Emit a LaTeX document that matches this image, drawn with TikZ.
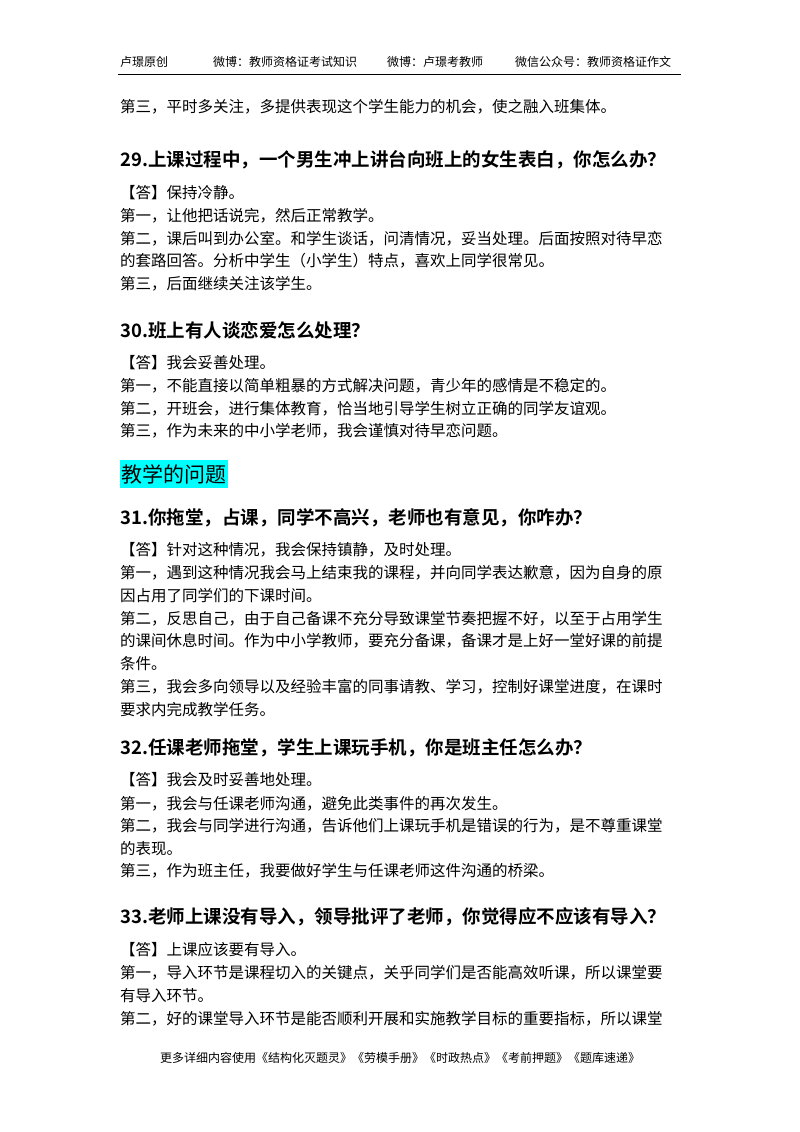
\documentclass[tikz,border=0pt]{standalone}
\usepackage{fontspec}
\setmainfont{Noto Sans CJK SC}
\newfontfamily\cjk{Noto Sans CJK SC}
\newfontfamily\cjkb{Noto Sans CJK SC Bold}
\definecolor{hl}{RGB}{0,255,255}
\begin{document}
\begin{tikzpicture}[x=1pt,y=-1pt,
 body/.style={anchor=west,inner sep=0,font=\cjk\fontsize{15.5}{18}\selectfont},
 head/.style={anchor=west,inner sep=0,font=\cjkb\fontsize{18.5}{22}\selectfont},
 small/.style={anchor=west,inner sep=0,font=\cjk\fontsize{12}{14}\selectfont}]
\useasboundingbox (0,0) rectangle (800,1132);
\fill[white] (0,0) rectangle (800,1132);
\node[small] (h1) at (120,62) {卢璟原创};
\node[small] (h2) at (213,62) {微博：教师资格证考试知识};
\node[small] (h3) at (387,62) {微博：卢璟考教师};
\node[small] (h4) at (515,62) {微信公众号：教师资格证作文};
\coordinate (la) at (118,74); \coordinate (lb) at (681,74);
\draw[line width=0.8] (la) -- (lb);
\node[body] (t0) at (120,107) {第三，平时多关注，多提供表现这个学生能力的机会，使之融入班集体。};
\node[head] (q29) at (120,160) {29.上课过程中，一个男生冲上讲台向班上的女生表白，你怎么办？};
\node[body] (a1) at (120,193) {【答】保持冷静。};
\node[body] (a2) at (120,216) {第一，让他把话说完，然后正常教学。};
\node[body] (a3) at (120,239) {第二，课后叫到办公室。和学生谈话，问清情况，妥当处理。后面按照对待早恋};
\node[body] (a4) at (120,261) {的套路回答。分析中学生（小学生）特点，喜欢上同学很常见。};
\node[body] (a5) at (120,284) {第三，后面继续关注该学生。};
\node[head] (q30) at (120,330) {30.班上有人谈恋爱怎么处理？};
\node[body] (b1) at (120,363) {【答】我会妥善处理。};
\node[body] (b2) at (120,386) {第一，不能直接以简单粗暴的方式解决问题，青少年的感情是不稳定的。};
\node[body] (b3) at (120,409) {第二，开班会，进行集体教育，恰当地引导学生树立正确的同学友谊观。};
\node[body] (b4) at (120,431) {第三，作为未来的中小学老师，我会谨慎对待早恋问题。};
\fill[hl] (120,460) rectangle (228,488);
\node[anchor=west,inner sep=0,font=\cjk\fontsize{21}{24}\selectfont] (sec) at (121,474) {教学的问题};
\node[head] (q31) at (120,518) {31.你拖堂，占课，同学不高兴，老师也有意见，你咋办？};
\node[body] (c1) at (120,550) {【答】针对这种情况，我会保持镇静，及时处理。};
\node[body] (c2) at (120,573) {第一，遇到这种情况我会马上结束我的课程，并向同学表达歉意，因为自身的原};
\node[body] (c3) at (120,596) {因占用了同学们的下课时间。};
\node[body] (c4) at (120,619) {第二，反思自己，由于自己备课不充分导致课堂节奏把握不好，以至于占用学生};
\node[body] (c5) at (120,641) {的课间休息时间。作为中小学教师，要充分备课，备课才是上好一堂好课的前提};
\node[body] (c6) at (120,664) {条件。};
\node[body] (c7) at (120,687) {第三，我会多向领导以及经验丰富的同事请教、学习，控制好课堂进度，在课时};
\node[body] (c8) at (120,710) {要求内完成教学任务。};
\node[head] (q32) at (120,748) {32.任课老师拖堂，学生上课玩手机，你是班主任怎么办？};
\node[body] (d1) at (120,780) {【答】我会及时妥善地处理。};
\node[body] (d2) at (120,804) {第一，我会与任课老师沟通，避免此类事件的再次发生。};
\node[body] (d3) at (120,826) {第二，我会与同学进行沟通，告诉他们上课玩手机是错误的行为，是不尊重课堂};
\node[body] (d4) at (120,849) {的表现。};
\node[body] (d5) at (120,871) {第三，作为班主任，我要做好学生与任课老师这件沟通的桥梁。};
\node[head] (q33) at (120,917) {33.老师上课没有导入，领导批评了老师，你觉得应不应该有导入？};
\node[body] (e1) at (120,950) {【答】上课应该要有导入。};
\node[body] (e2) at (120,973) {第一，导入环节是课程切入的关键点，关乎同学们是否能高效听课，所以课堂要};
\node[body] (e3) at (120,996) {有导入环节。};
\node[body] (e4) at (120,1019) {第二，好的课堂导入环节是能否顺利开展和实施教学目标的重要指标，所以课堂};
\node[anchor=center,inner sep=0,font=\cjk\fontsize{12}{14}\selectfont] (ft) at (400,1058) {更多详细内容使用《结构化灭题灵》《劳模手册》《时政热点》《考前押题》《题库速递》};
\end{tikzpicture}
\end{document}
